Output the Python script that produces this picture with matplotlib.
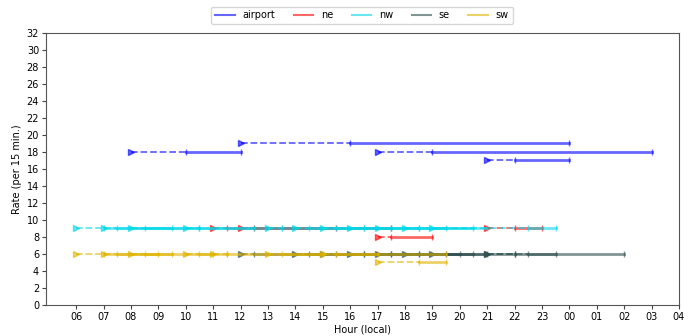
import numpy as np
import matplotlib
matplotlib.use("Agg")
import matplotlib.pyplot as plt
from matplotlib.lines import Line2D

# forecasts: (issued, valid from, valid to, rate) -- hours since 00 local, >24 = next day
airport = [(8, 10, 12, 18), (12, 16, 24, 19), (17, 19, 27, 18), (21, 22, 24, 17)]
ne = [(11, 11.5, 15.5, 9), (12, 12.5, 17.5, 9), (17, 17.5, 19, 8), (21, 22, 23, 9)]
nw = [(6, 7, 9.5, 9), (7, 7.5, 10.5, 9), (8, 8.5, 12.5, 9), (10, 10.5, 13.5, 9),
      (13, 13.5, 16.5, 9), (14, 14.5, 17.5, 9), (15, 15.5, 18.5, 9), (16, 16.5, 20.5, 9),
      (17, 17.5, 19.5, 9), (18, 18.5, 21, 9), (19, 22.5, 23.5, 9)]
se = [(12, 12.5, 16.5, 6), (14, 14.5, 17.5, 6), (15, 15.5, 18.5, 6), (16, 16.5, 20, 6),
      (17, 17.5, 20.5, 6), (18, 18.5, 21, 6), (19, 19.5, 22, 6), (21, 22, 23.5, 6),
      (21, 22.5, 26, 6)]
sw = [(6, 7, 9, 6), (7, 7.5, 9.5, 6), (8, 8.5, 11, 6), (10, 10.5, 11.5, 6),
      (11, 11.5, 15, 6), (13, 13.5, 17, 6), (15, 15.5, 19.5, 6), (17, 18.5, 19.5, 5)]

series = [("airport", airport, "blue"),
          ("ne", ne, "red"),
          ("nw", nw, "#00d8e8"),
          ("se", se, "darkslategray"),
          ("sw", sw, "#e0b400")]

hour_ticks = list(range(6, 29))
hour_labels = ["%02d" % (h % 24) for h in hour_ticks]

fig = plt.figure(figsize=(6.91, 3.36), dpi=100)
ax = fig.add_axes([0.0666, 0.0923, 0.916, 0.8095])

handles = []
for name, fc, color in series:
    for issued, t0, t1, rate in fc:
        ax.plot([issued, t0], [rate, rate], linestyle="--", color=color, alpha=0.6,
                linewidth=1.3, marker=">", markevery=[0], markersize=5)
        ax.plot([t0, t1], [rate, rate], linestyle="-", color=color, alpha=0.6,
                linewidth=2, marker="|", markersize=5, markeredgewidth=1)
    handles.append(Line2D([], [], color=color, alpha=0.6, linewidth=1.5, label=name))

ax.set_xlim(4.9, 28)
ax.set_ylim(0, 32)
ax.set_xticks(hour_ticks)
ax.set_xticklabels(hour_labels)
ax.set_yticks(np.arange(0, 33, 2))
ax.tick_params(axis="both", labelsize=7, length=3, pad=2, color="#444444")
for s in ax.spines.values():
    s.set_color("#555555")
ax.set_xlabel("Hour (local)", fontsize=7, labelpad=2)
ax.set_ylabel("Rate (per 15 min.)", fontsize=7, labelpad=3)

fig.legend(handles=handles, loc="upper center", bbox_to_anchor=(0.524, 0.995), ncol=5,
           fontsize=7, columnspacing=1.9, handlelength=2.0, frameon=True,
           edgecolor="#cccccc", borderpad=0.4)

fig.savefig("out.png", dpi=100)
